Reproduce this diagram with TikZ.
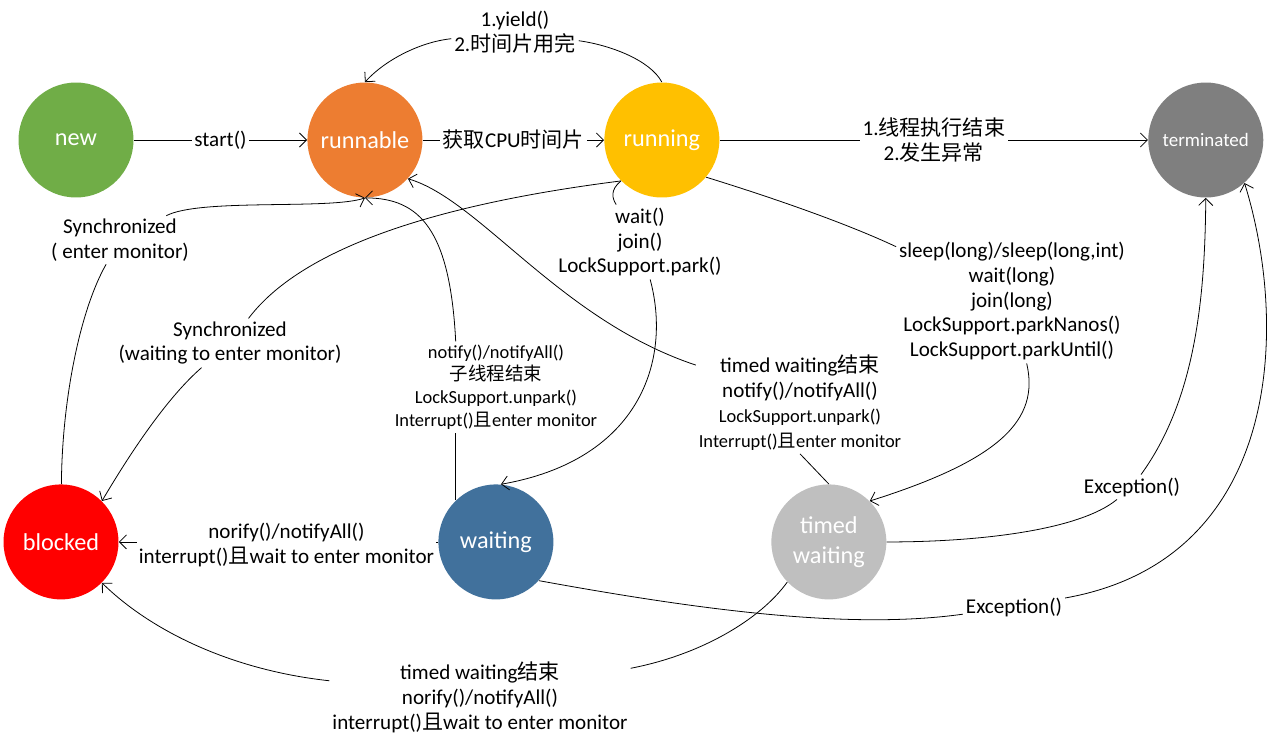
\documentclass[tikz,border=0pt]{standalone}
\usepackage{fontspec}
\setmainfont{Carlito}
\newfontfamily\cjk{Noto Sans CJK SC}
\newcommand{\zh}[1]{{\cjk #1}}
\newcommand{\smallfont}{\fontsize{10.5}{13}\selectfont}
\usepackage{tikz}
\usetikzlibrary{automata, positioning, arrows.meta}
\definecolor{cnew}{HTML}{70AD47}
\definecolor{crunnable}{HTML}{ED7D31}
\definecolor{crunning}{HTML}{FFC000}
\definecolor{cterminated}{HTML}{7F7F7F}
\definecolor{cblocked}{HTML}{FF0000}
\definecolor{cwaiting}{HTML}{41719C}
\definecolor{ctimed}{HTML}{BFBFBF}

\begin{document}
\begin{tikzpicture}[x=0.02cm, y=-0.02cm, node distance=2cm, on grid, line width=0.45pt, >={Straight Barb[length=4pt,width=8pt]}]
      \tikzstyle{every state}=[draw=none, minimum size=2.3cm, inner sep=1pt, text=white, font=\fontsize{13.8}{17}\selectfont]
      \tikzstyle{lbl}=[fill=white, inner sep=1.5pt, align=center, font=\fontsize{12}{14.2}\selectfont]
      \tikzstyle{lblsmall}=[lbl, font=\smallfont]
      \useasboundingbox (0,0) rectangle (1268,745);

      % Nodes
      \node[state, fill=cnew]         (new) at (76,140) {new};
      \node[state, fill=crunnable]    (runnable) [right=5.78cm of new] {runnable};
      \node[state, fill=crunning]     (running) [right=5.94cm of runnable] {running};
      \node[state, fill=cterminated, font=\fontsize{10.8}{13}\selectfont] (terminated) [right=10.88cm of running] {terminated};
      \node[state, fill=cblocked]     (blocked) [below=8.04cm of new, xshift=-0.3cm] {blocked};
      \node[state, fill=cwaiting]     (waiting) [right=8.7cm of blocked] {waiting};
      \node[state, fill=ctimed, align=center] (timed) [right=6.66cm of waiting] {timed\\waiting};

      % Labels
      \node[lbl] (yieldLbl) at (515,32) {1.yield()\\2.\zh{时间片用完}};
      \node[lbl] (syncEnter) at (120,240) {Synchronized\\( enter monitor)};
      \node[lbl] (syncWait) at (230,343) {Synchronized\\(waiting to enter monitor)};
      \node[lbl] (parkLbl) at (640,242) {wait()\\join()\\LockSupport.park()};
      \node[lbl] (sleepLbl) at (1012,301) {sleep(long)/sleep(long,int)\\wait(long)\\join(long)\\LockSupport.parkNanos()\\LockSupport.parkUntil()};
      \node[lblsmall] (notifyLbl) at (496,387) {notify()/notifyAll()\\\zh{子线程结束}\\LockSupport.unpark()\\Interrupt()\zh{且}enter monitor};
      \node[lbl] (timedNotifyLbl) at (800,403) {timed waiting\zh{结束}\\notify()/notifyAll()\\{\smallfont LockSupport.unpark()}\\{\smallfont Interrupt()\zh{且}enter monitor}};
      \node[lbl] (excTermLbl) at (1132,487) {Exception()};
      \node[lbl] (excWaitLbl) at (1014,607) {Exception()};
      \node[lbl] (timedBlockLbl) at (480,697) {timed waiting\zh{结束}\\norify()/notifyAll()\\interrupt()\zh{且}wait to enter monitor};

      % Edges
      \path[->]
        (new) edge node[lbl] {start()} (runnable)
        (runnable) edge node[lbl] {\zh{获取}CPU\zh{时间片}} (running)
        (running) edge node[lbl] {1.\zh{线程执行结束}\\2.\zh{发生异常}} (terminated)
        (waiting) edge node[lbl, inner sep=1pt, pos=0.475, yshift=-1.5pt] {norify()/notifyAll()\\interrupt()\zh{且}wait to enter monitor} (blocked);

      \draw (running.north) .. controls (650,60) and (610,45) .. (yieldLbl);
      \draw[->] (yieldLbl) .. controls (420,42) and (385,60) .. (runnable.north);

      \draw (blocked) .. controls (62,400) and (80,310) .. (syncEnter);
      \draw[->] (syncEnter) .. controls (200,198) and (330,210) .. (runnable.south);

      \draw (running.225) .. controls (430,205) and (300,250) .. (syncWait);
      \draw[->] (syncWait) .. controls (170,395) and (135,445) .. (blocked.45);

      \draw (waiting.134) -- (waiting.134 |- notifyLbl.south);
      \draw[->] (waiting.134 |- notifyLbl.north) .. controls (450,230) and (420,198) .. (runnable.south);

      \draw (running.225) .. controls (610,190) and (612,198) .. (parkLbl);
      \draw[->] (parkLbl) .. controls (672,360) and (640,460) .. (waiting.85);

      \draw (running.320) .. controls (780,200) and (850,225) .. (sleepLbl);
      \draw[->] (sleepLbl) .. controls (1040,420) and (1000,460) .. (timed.45);

      \draw (timed.north) -- (timedNotifyLbl.south);
      \draw[->] (timedNotifyLbl.160) .. controls (560,320) and (480,200) .. (runnable.318);

      \draw (timed) .. controls (980,542) and (1080,530) .. (excTermLbl);
      \draw[->] (excTermLbl) .. controls (1195,400) and (1205,300) .. (terminated.south);

      \draw (waiting.318) .. controls (700,610) and (850,630) .. (excWaitLbl);
      \draw[->] (excWaitLbl) .. controls (1280,560) and (1290,330) .. (terminated.312);

      \draw (timed.224) .. controls (760,620) and (700,655) .. (timedBlockLbl);
      \draw[->] (timedBlockLbl) .. controls (230,670) and (150,630) .. (blocked.315);
\end{tikzpicture}
\end{document}
